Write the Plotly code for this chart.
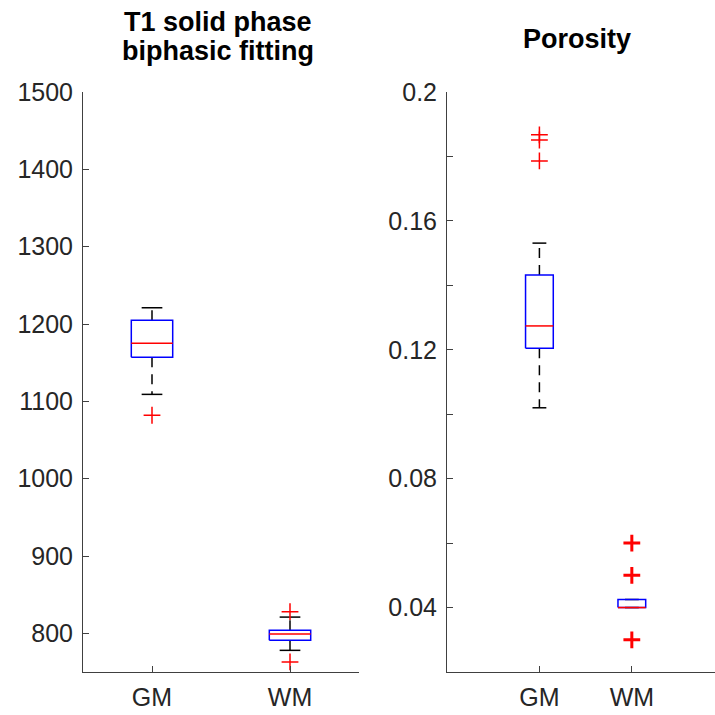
import plotly.graph_objects as go

# Box-plot summary statistics per tissue class
categories = ["GM", "WM"]

t1_low = [1109, 778]
t1_q1 = [1157, 791]
t1_median = [1175, 799]
t1_q3 = [1205, 804]
t1_high = [1221, 821]
t1_outliers = [[1082], [828, 763]]

por_low = [0.102, 0.040]
por_q1 = [0.1205, 0.040]
por_median = [0.1274, 0.040]
por_q3 = [0.1432, 0.0425]
por_high = [0.1531, 0.0425]
por_outliers = [[0.1867, 0.1851, 0.1786], [0.06, 0.05, 0.03]]

t1_ticks = [800, 900, 1000, 1100, 1200, 1300, 1400, 1500]
por_ticks = [0.04, 0.06, 0.08, 0.10, 0.12, 0.14, 0.16, 0.18, 0.20]
por_ticklabels = ["0.04", "", "0.08", "", "0.12", "", "0.16", "", "0.2"]

title_left = ["T1 solid phase", "biphasic fitting"]
title_right = "Porosity"

BOX_HALF = 0.15
CAP_HALF = 0.075
AXIS_COLOR = "#404040"
TEXT_COLOR = "#262626"
FONT = "Liberation Sans, Arial, sans-serif"

fig = go.Figure()


def add_boxes(xa, ya, low, q1, med, q3, high, outliers, outlier_widths):
    for i, _ in enumerate(categories):
        c = i + 1
        common = dict(xaxis=xa, yaxis=ya, mode="lines", hoverinfo="skip", showlegend=False)
        # dashed whiskers
        fig.add_trace(go.Scatter(x=[c, c], y=[q3[i], high[i]],
                                 line=dict(color="black", width=1.5, dash="10px,7px"), **common))
        fig.add_trace(go.Scatter(x=[c, c], y=[q1[i], low[i]],
                                 line=dict(color="black", width=1.5, dash="10px,7px"), **common))
        # whisker caps
        fig.add_trace(go.Scatter(x=[c - CAP_HALF, c + CAP_HALF], y=[high[i], high[i]],
                                 line=dict(color="black", width=1.5), **common))
        fig.add_trace(go.Scatter(x=[c - CAP_HALF, c + CAP_HALF], y=[low[i], low[i]],
                                 line=dict(color="black", width=1.5), **common))
        # box outline
        fig.add_trace(go.Scatter(
            x=[c - BOX_HALF, c + BOX_HALF, c + BOX_HALF, c - BOX_HALF, c - BOX_HALF],
            y=[q1[i], q1[i], q3[i], q3[i], q1[i]],
            line=dict(color="#0000FF", width=1.5), **common))
        # median
        fig.add_trace(go.Scatter(x=[c - BOX_HALF, c + BOX_HALF], y=[med[i], med[i]],
                                 line=dict(color="#FF0000", width=1.5), **common))
        # outliers
        if outliers[i]:
            fig.add_trace(go.Scatter(
                x=[c] * len(outliers[i]), y=outliers[i], xaxis=xa, yaxis=ya,
                mode="markers", hoverinfo="skip", showlegend=False,
                marker=dict(symbol="cross-thin", size=12, color="#FF0000",
                            line=dict(color="#FF0000", width=outlier_widths[i]))))


add_boxes("x", "y", t1_low, t1_q1, t1_median, t1_q3, t1_high, t1_outliers, [1.5, 1.5])
add_boxes("x2", "y2", por_low, por_q1, por_median, por_q3, por_high, por_outliers, [1.5, 3])

axis_common = dict(showline=True, linecolor=AXIS_COLOR, linewidth=1, ticks="inside",
                   ticklen=6, tickcolor=AXIS_COLOR, tickwidth=1, showgrid=False,
                   zeroline=False, mirror=False, automargin=False,
                   tickfont=dict(family=FONT, size=25, color=TEXT_COLOR))

y_dom = [1 - 672 / 715, 1 - 92 / 715]

title_font = dict(family=FONT, size=27, color="black")
annotations = [
    dict(text="<b>%s</b>" % title_left[0], xref="paper", yref="paper",
         x=218 / 715, y=1 - 22 / 715, xanchor="center", yanchor="middle",
         showarrow=False, font=title_font),
    dict(text="<b>%s</b>" % title_left[1], xref="paper", yref="paper",
         x=218 / 715, y=1 - 51 / 715, xanchor="center", yanchor="middle",
         showarrow=False, font=title_font),
    dict(text="<b>%s</b>" % title_right, xref="paper", yref="paper",
         x=577 / 715, y=1 - 39 / 715, xanchor="center", yanchor="middle",
         showarrow=False, font=title_font),
]

fig.update_layout(
    width=715, height=715,
    margin=dict(l=0, r=0, t=0, b=0),
    paper_bgcolor="white", plot_bgcolor="white",
    showlegend=False,
    xaxis=dict(domain=[83 / 715, 359 / 715], range=[0.5, 2.5],
               tickvals=[1, 2], ticktext=categories, anchor="y",
               ticklabelstandoff=3, **axis_common),
    yaxis=dict(domain=y_dom, range=[750, 1500], tickvals=t1_ticks, anchor="x",
               ticklabelstandoff=4, **axis_common),
    xaxis2=dict(domain=[447 / 715, 1.0], range=[0, 2.9],
                tickvals=[1, 2], ticktext=categories, anchor="y2",
                ticklabelstandoff=3, **axis_common),
    yaxis2=dict(domain=y_dom, range=[0.02, 0.2], tickvals=por_ticks,
                ticktext=por_ticklabels, anchor="x2",
                ticklabelstandoff=4, **axis_common),
    annotations=annotations,
)

fig.write_html("out.html")
